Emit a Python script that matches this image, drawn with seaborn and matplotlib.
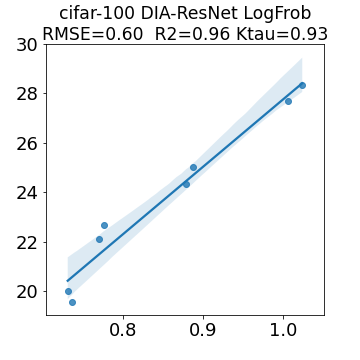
import numpy as np
import pandas as pd
import seaborn as sns
import matplotlib
matplotlib.use("Agg")
import matplotlib.pyplot as plt

# values
log_frob = [0.7305, 0.7362, 0.770, 0.776, 0.8788, 0.8875, 1.0063, 1.0238]
accuracy = [20.0, 19.54, 22.09, 22.66, 24.32, 25.01, 27.68, 28.33]
title = "cifar-100 DIA-ResNet LogFrob\nRMSE=0.60  R2=0.96 Ktau=0.93"

df = pd.DataFrame({"x": log_frob, "y": accuracy})

fig = plt.figure(figsize=(5, 5), dpi=72)
ax = fig.add_axes([0.127, 0.125, 0.773, 0.753])
sns.regplot(x="x", y="y", data=df, ax=ax, seed=0)
ax.set_xlabel("")
ax.set_ylabel("")
ax.set_xlim(0.703, 1.051)
ax.set_ylim(19.03, 30.0)
ax.set_xticks([0.8, 0.9, 1.0])
ax.set_yticks([20, 22, 24, 26, 28, 30])
ax.tick_params(labelsize=18)
ax.set_title(title, fontsize=17.3, pad=1)
fig.savefig("out.png", dpi=72)
